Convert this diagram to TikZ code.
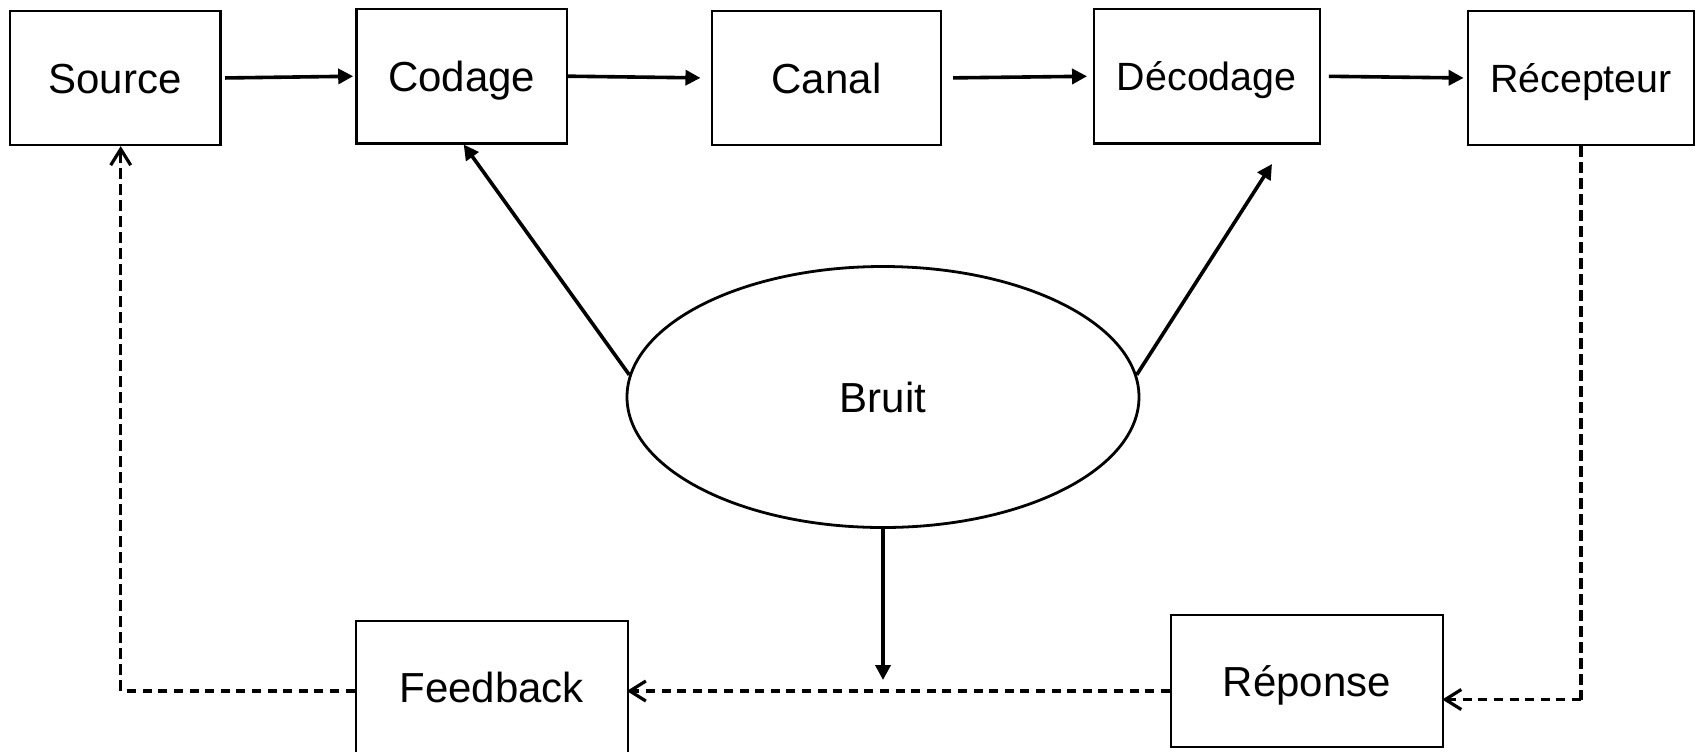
\documentclass[tikz,border=0pt]{standalone}
\usepackage{fontspec}
\setmainfont{Liberation Sans}
\usetikzlibrary{arrows.meta,shapes.geometric}
\begin{document}
\begin{tikzpicture}[x=0.5pt,y=-0.5pt,
  box/.style={draw, line width=1.15pt, rectangle, inner sep=0pt,
    font=\fontsize{21pt}{25pt}\selectfont, text height=15pt, text depth=0pt},
  boxs/.style={box, font=\fontsize{19.7pt}{24pt}\selectfont, text height=14.1pt},
  flow/.style={line width=1.8pt, -{Triangle[length=7.5pt,width=7.5pt]}},
  hdash/.style={line width=1.6pt, dash pattern=on 4.5pt off 3.3pt},
  vdash/.style={line width=1.6pt, dash pattern=on 5.5pt off 2.5pt},
  barb/.style={-{Straight Barb[length=8pt,width=10pt]}}
]
\fill[white] (0,0) rectangle (1698,751);
\clip (0,0) rectangle (1698,751);

\node[box, minimum width=105.35pt, minimum height=67pt] (source) at (115,78) {Source};
\node[box, minimum width=105.35pt, minimum height=67.15pt] (codage) at (461.7,76.2) {Codage};
\node[box, minimum width=114.5pt, minimum height=67pt] (canal) at (826.5,78) {Canal};
\node[boxs, minimum width=113pt, minimum height=67.15pt] (decodage) at (1206.8,76.2) {Décodage};
\node[boxs, minimum width=112.75pt, minimum height=67pt] (recepteur) at (1581,78) {Récepteur};
\node[draw, ellipse, line width=1.4pt, inner sep=0pt, minimum width=256pt, minimum height=130.5pt,
  font=\fontsize{21pt}{25pt}\selectfont, text height=15pt, text depth=0pt] (bruit) at (883,397) {Bruit};
\node[box, minimum width=136pt, minimum height=66.3pt] (feedback) at (491.7,687) {Feedback};
\node[box, minimum width=136.15pt, minimum height=66.15pt] (reponse) at (1307,681) {Réponse};

\coordinate (dtip) at (1272,164);
\coordinate (ntip) at (883,680);
\coordinate (rcorner) at (1581,699.5);
\coordinate (fby) at (0,691);
\coordinate (scorner) at (120.7,691);

% main chain
\draw[flow, shorten <=1.85pt, shorten >=1pt] (source.east) -- (codage.west);
\draw[flow, shorten >=5.2pt] (codage.east) -- (canal.west);
\draw[flow, shorten <=5.5pt, shorten >=2.8pt] (canal.east) -- (decodage.west);
\draw[flow, shorten <=4pt, shorten >=1.75pt] (decodage.east) -- (recepteur.west);

% noise
\draw[flow] (bruit.175) -- ([xshift=1pt]codage.south);
\draw[flow] (bruit.5) -- (dtip);
\draw[flow] (bruit.south) -- (ntip);

% feedback loop
\draw[vdash] (recepteur.south) -- (rcorner);
\draw[hdash, barb, shorten >=-1pt] (rcorner) -- (rcorner -| reponse.east);
\draw[hdash, barb, shorten >=-1pt] (reponse.west |- fby) -- (feedback.east |- fby);
\draw[hdash] (feedback.west |- fby) -- (scorner);
\draw[vdash, barb] (scorner) -- (scorner |- source.south);
\end{tikzpicture}
\end{document}
